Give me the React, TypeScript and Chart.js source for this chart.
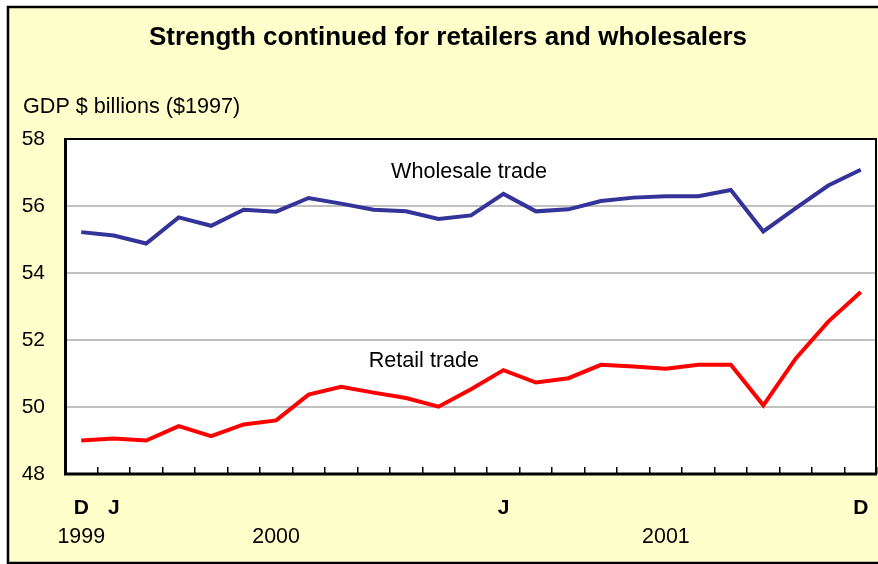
import React, { useEffect, useRef } from 'react';
import { Chart, registerables } from 'chart.js';

Chart.register(...registerables);

const categories = [
  'Dec 1999', 'Jan 2000', 'Feb 2000', 'Mar 2000', 'Apr 2000', 'May 2000', 'Jun 2000',
  'Jul 2000', 'Aug 2000', 'Sep 2000', 'Oct 2000', 'Nov 2000', 'Dec 2000',
  'Jan 2001', 'Feb 2001', 'Mar 2001', 'Apr 2001', 'May 2001', 'Jun 2001',
  'Jul 2001', 'Aug 2001', 'Sep 2001', 'Oct 2001', 'Nov 2001', 'Dec 2001',
];

const wholesale = [
  55.22, 55.12, 54.88, 55.66, 55.41, 55.89, 55.83, 56.24, 56.07, 55.89, 55.84, 55.61, 55.72,
  56.36, 55.84, 55.90, 56.15, 56.25, 56.29, 56.29, 56.48, 55.24, 55.94, 56.61, 57.08,
];

const retail = [
  49.0, 49.06, 49.0, 49.43, 49.13, 49.48, 49.6, 50.37, 50.6, 50.43, 50.27, 50.01, 50.53,
  51.1, 50.73, 50.86, 51.26, 51.21, 51.14, 51.26, 51.26, 50.05, 51.45, 52.55, 53.43,
];

const monthTickLabels = [
  'D', 'J', '', '', '', '', '', '', '', '', '', '', '',
  'J', '', '', '', '', '', '', '', '', '', '', 'D',
];

const yearTickLabels = [
  '1999', '', '', '', '', '', '2000', '', '', '', '', '', '',
  '', '', '', '', '', '2001', '', '', '', '', '', '',
];

const yMin = 48;
const yMax = 58;
const yStep = 2;

const titleText = 'Strength continued for retailers and wholesalers';
const yAxisLabel = 'GDP $ billions ($1997)';
const seriesNames = ['Wholesale trade', 'Retail trade'];
// label anchors in data space: [category index, value]
const seriesLabelAnchors = [
  [11.94, 57.01],
  [10.55, 51.37],
];

const FONT = '"Liberation Sans", Arial, sans-serif';

const decorPlugin = {
  id: 'decor',
  beforeDraw(chart: any) {
    const { ctx, chartArea: a, width, height } = chart;
    ctx.save();
    ctx.fillStyle = '#ffffff';
    ctx.fillRect(0, 0, width, height);
    ctx.fillStyle = '#FFFFCC';
    ctx.fillRect(8, 7, width - 8, height - 8);
    ctx.fillStyle = '#ffffff';
    ctx.fillRect(a.left, a.top, a.right - a.left, a.bottom - a.top);
    // outer frame
    ctx.strokeStyle = '#000';
    ctx.lineWidth = 2.5;
    ctx.beginPath();
    ctx.moveTo(width + 5, 7);
    ctx.lineTo(8, 7);
    ctx.lineTo(8, 563);
    ctx.lineTo(width + 5, 563);
    ctx.stroke();
    ctx.restore();
  },
  afterDraw(chart: any) {
    const { ctx, chartArea: a, scales } = chart;
    ctx.save();
    // plot frame
    ctx.strokeStyle = '#000';
    ctx.lineWidth = 2;
    ctx.beginPath();
    ctx.moveTo(a.left, a.top);
    ctx.lineTo(a.right - 1, a.top);
    ctx.lineTo(a.right - 1, a.bottom);
    ctx.stroke();
    ctx.lineWidth = 3;
    ctx.beginPath();
    ctx.moveTo(a.left + 0.5, a.top - 1);
    ctx.lineTo(a.left + 0.5, a.bottom);
    ctx.lineTo(a.right, a.bottom);
    ctx.stroke();

    ctx.fillStyle = '#000';
    ctx.textBaseline = 'middle';
    ctx.font = `bold 26px ${FONT}`;
    ctx.textAlign = 'center';
    ctx.fillText(titleText, 448, 38);

    ctx.font = `21.6px ${FONT}`;
    ctx.textAlign = 'left';
    ctx.fillText(yAxisLabel, 23, 107);

    ctx.textAlign = 'center';
    seriesNames.forEach((n, i) => {
      const [ix, v] = seriesLabelAnchors[i];
      ctx.fillText(n, scales.x.getPixelForValue(ix), scales.y.getPixelForValue(v));
    });
    ctx.restore();
  },
};

export default function App() {
  const ref = useRef<HTMLCanvasElement>(null);
  useEffect(() => {
    if (!ref.current) return;
    const chart = new Chart(ref.current, {
      type: 'line',
      data: {
        labels: categories,
        datasets: [
          {
            label: seriesNames[0],
            data: wholesale,
            borderColor: '#333399',
            borderWidth: 4,
            pointRadius: 0,
            tension: 0,
            xAxisID: 'x',
          },
          {
            label: seriesNames[1],
            data: retail,
            borderColor: '#FF0000',
            borderWidth: 4,
            pointRadius: 0,
            tension: 0,
            xAxisID: 'x',
          },
        ],
      },
      options: {
        animation: false,
        responsive: false,
        devicePixelRatio: 1,
        layout: { padding: { left: 0, right: 1, top: 139, bottom: 14 } },
        plugins: {
          legend: { display: false },
          tooltip: { enabled: false },
          title: { display: false },
        },
        scales: {
          x: {
            type: 'category',
            position: 'bottom',
            offset: true,
            grid: {
              offset: true,
              drawOnChartArea: false,
              drawTicks: true,
              tickLength: -7,
              color: '#000',
              lineWidth: 1.5,
            },
            border: { display: false },
            ticks: {
              autoSkip: false,
              maxRotation: 0,
              padding: 29,
              color: '#000',
              font: { family: FONT, size: 21, weight: 'bold' },
              callback: (_v: any, i: number) => monthTickLabels[i],
            },
            afterFit: (s: any) => {
              s.height = 46;
              s.paddingLeft = 0;
              s.paddingRight = 0;
            },
          },
          x2: {
            type: 'category',
            position: 'bottom',
            offset: true,
            labels: yearTickLabels,
            grid: { display: false, drawTicks: false },
            border: { display: false },
            ticks: {
              autoSkip: false,
              maxRotation: 0,
              padding: 4,
              color: '#000',
              font: { family: FONT, size: 21.4 },
            },
            afterFit: (s: any) => {
              s.height = 30;
              s.paddingLeft = 0;
              s.paddingRight = 0;
            },
          },
          y: {
            min: yMin,
            max: yMax,
            grid: { color: '#c0c0c0', lineWidth: 2, drawTicks: false },
            border: { display: false },
            ticks: {
              stepSize: yStep,
              padding: 20,
              color: '#000',
              font: { family: FONT, size: 21 },
            },
            afterFit: (s: any) => {
              s.width = 65;
              s.paddingTop = 0;
              s.paddingBottom = 0;
            },
          },
        },
      } as any,
      plugins: [decorPlugin],
    });
    return () => chart.destroy();
  }, []);

  return (
    <div style={{ position: 'fixed', left: 0, top: 0, width: 878, height: 564 }}>
      <canvas ref={ref} width={878} height={564} style={{ display: 'block' }} />
    </div>
  );
}
